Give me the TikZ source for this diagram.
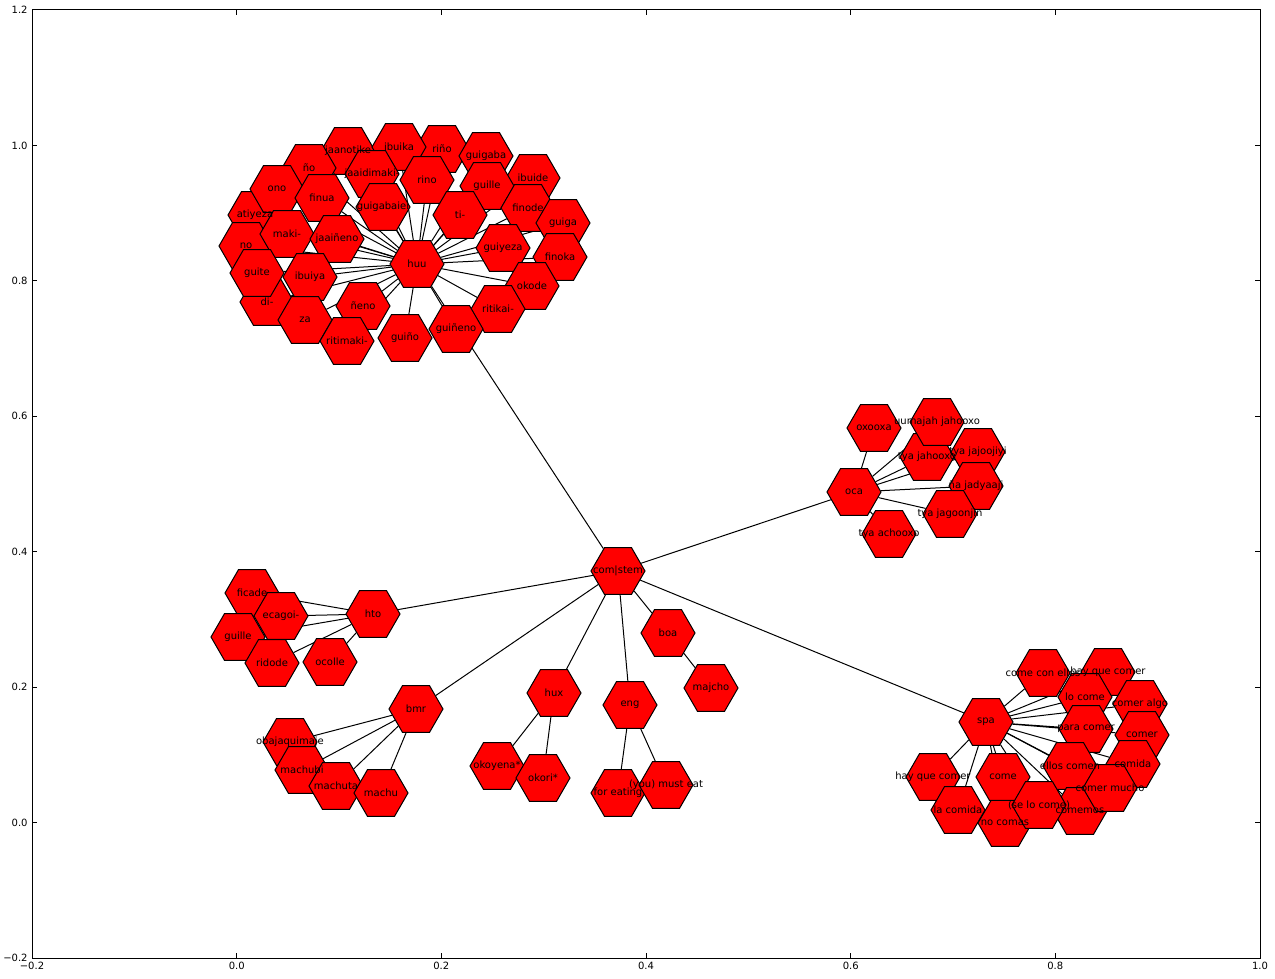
\documentclass[tikz,border=0pt]{standalone}
\usepackage{fontspec}
\setmainfont{DejaVu Sans}
\usetikzlibrary{shapes.geometric}
\pgfdeclarelayer{background}
\pgfsetlayers{background,main}

\begin{document}
\begin{tikzpicture}[x=0.5pt,y=-0.5pt,
  hexnode/.style={regular polygon,regular polygon sides=6,minimum size=27pt,inner sep=0pt,fill=red,draw=black,line width=0.5pt},
  hexlabel/.style={font=\fontsize{5}{6}\selectfont,inner sep=0pt,text=black},
  ticklabel/.style={font=\fontsize{5}{6}\selectfont,inner sep=0pt},
  edge/.style={line width=0.5pt}]
\useasboundingbox (0,0) rectangle (1275,979);
% axes box and ticks
\draw[line width=0.5pt](32,10) rectangle (1260,958);
\draw[line width=0.5pt](236.7,958)--(236.7,953) (441.3,958)--(441.3,953) (646,958)--(646,953) (850.7,958)--(850.7,953) (1055.3,958)--(1055.3,953);
\draw[line width=0.5pt](236.7,10)--(236.7,15) (441.3,10)--(441.3,15) (646,10)--(646,15) (850.7,10)--(850.7,15) (1055.3,10)--(1055.3,15);
\draw[line width=0.5pt](32,822.6)--(37,822.6) (32,687.1)--(37,687.1) (32,551.7)--(37,551.7) (32,416.3)--(37,416.3) (32,280.9)--(37,280.9) (32,145.4)--(37,145.4);
\draw[line width=0.5pt](1260,822.6)--(1255,822.6) (1260,687.1)--(1255,687.1) (1260,551.7)--(1255,551.7) (1260,416.3)--(1255,416.3) (1260,280.9)--(1255,280.9) (1260,145.4)--(1255,145.4);
\node[ticklabel,anchor=north] (xm2) at (32,962) {−0.2};
\node[ticklabel,anchor=north] (x0) at (236.7,962) {0.0};
\node[ticklabel,anchor=north] (x2) at (441.3,962) {0.2};
\node[ticklabel,anchor=north] (x4) at (646,962) {0.4};
\node[ticklabel,anchor=north] (x6) at (850.7,962) {0.6};
\node[ticklabel,anchor=north] (x8) at (1055.3,962) {0.8};
\node[ticklabel,anchor=north] (x10) at (1260,962) {1.0};
\node[ticklabel,anchor=east] (ym2) at (28,958) {−0.2};
\node[ticklabel,anchor=east] (y0) at (28,822.6) {0.0};
\node[ticklabel,anchor=east] (y2) at (28,687.1) {0.2};
\node[ticklabel,anchor=east] (y4) at (28,551.7) {0.4};
\node[ticklabel,anchor=east] (y6) at (28,416.3) {0.6};
\node[ticklabel,anchor=east] (y8) at (28,280.9) {0.8};
\node[ticklabel,anchor=east] (y10) at (28,145.4) {1.0};
\node[ticklabel,anchor=east] (y12) at (28,10) {1.2};
%
% hexagons
\node[hexnode] (stem) at (618,571) {};
\node[hexnode] (huu) at (417,264) {};
\node[hexnode] (oca) at (854,492) {};
\node[hexnode] (spa) at (986,722) {};
\node[hexnode] (hto) at (373,614) {};
\node[hexnode] (bmr) at (416,709) {};
\node[hexnode] (hux) at (554,693) {};
\node[hexnode] (eng) at (630,705) {};
\node[hexnode] (boa) at (668,633) {};
%
\node[hexnode] (jaanotike) at (348,151) {};
\node[hexnode] (riny) at (442,149) {};
\node[hexnode] (guigaba) at (486,156) {};
\node[hexnode] (ibuika) at (399,147) {};
\node[hexnode] (nyo) at (309,168) {};
\node[hexnode] (jaaidimaki) at (372,174) {};
\node[hexnode] (rino) at (427,180) {};
\node[hexnode] (ibuide) at (533,178) {};
\node[hexnode] (guille) at (487,186) {};
\node[hexnode] (atiyeza) at (255,215) {};
\node[hexnode] (ono) at (277,189) {};
\node[hexnode] (finua) at (322,198) {};
\node[hexnode] (guigabaiei) at (383,207) {};
\node[hexnode] (finode) at (528,208) {};
\node[hexnode] (ti) at (460,215) {};
\node[hexnode] (guiga) at (563,223) {};
\node[hexnode] (no) at (246,246) {};
\node[hexnode] (maki) at (287,234) {};
\node[hexnode] (jaainyeno) at (337,239) {};
\node[hexnode] (guiyeza) at (503,248) {};
\node[hexnode] (finoka) at (560,257) {};
\node[hexnode] (di) at (267,302) {};
\node[hexnode] (guite) at (257,273) {};
\node[hexnode] (ibuiya) at (310,277) {};
\node[hexnode] (okode) at (532,286) {};
\node[hexnode] (za) at (305,320) {};
\node[hexnode] (nyeno) at (363,306) {};
\node[hexnode] (ritikai) at (498,309) {};
\node[hexnode] (ritimaki) at (347,341) {};
\node[hexnode] (guinyo) at (405,338) {};
\node[hexnode] (guinyeno) at (456,329) {};
%
\node[hexnode] (oxooxa) at (874,428) {};
\node[hexnode] (tyajahooxo) at (927,457) {};
\node[hexnode] (uumajah) at (937,422) {};
\node[hexnode] (tyajajoojiyi) at (978,452) {};
\node[hexnode] (nyajadyaaji) at (976,486) {};
\node[hexnode] (tyajagoonjin) at (950,514) {};
\node[hexnode] (tyaachooxo) at (889,534) {};
%
\node[hexnode] (comeconellos) at (1043,673) {};
\node[hexnode] (hayqueA) at (1108,672) {};
\node[hexnode] (locome) at (1085,697) {};
\node[hexnode] (comeralgo) at (1140,704) {};
\node[hexnode] (paracomer) at (1086,729) {};
\node[hexnode] (comer) at (1142,735) {};
\node[hexnode] (comida) at (1133,764) {};
\node[hexnode] (elloscomen) at (1070,766) {};
\node[hexnode] (comemos) at (1080,811) {};
\node[hexnode] (comermucho) at (1110,788) {};
\node[hexnode] (hayqueB) at (933,777) {};
\node[hexnode] (lacomida) at (958,810) {};
\node[hexnode] (nocomas) at (1005,823) {};
\node[hexnode] (come) at (1003,777) {};
\node[hexnode] (selocome) at (1039,805) {};
%
\node[hexnode] (ficade) at (252,593) {};
\node[hexnode] (ecagoi) at (281,616) {};
\node[hexnode] (guilleb) at (238,637) {};
\node[hexnode] (ridode) at (272,663) {};
\node[hexnode] (ocolle) at (330,662) {};
%
\node[hexnode] (obajaquimaje) at (290,742) {};
\node[hexnode] (machubi) at (302,770) {};
\node[hexnode] (machuta) at (336,786) {};
\node[hexnode] (machu) at (381,793) {};
%
\node[hexnode] (okoyena) at (497,766) {};
\node[hexnode] (okori) at (543,778) {};
\node[hexnode] (foreating) at (618,793) {};
\node[hexnode] (musteat) at (666,785) {};
\node[hexnode] (majcho) at (711,688) {};
%
% edges
\begin{pgfonlayer}{background}
\draw[edge] (stem)--(huu) (stem)--(oca) (stem)--(spa) (stem)--(hto) (stem)--(bmr) (stem)--(hux) (stem)--(eng) (stem)--(boa);
\draw[edge] (huu)--(jaanotike) (huu)--(riny) (huu)--(guigaba) (huu)--(ibuika) (huu)--(nyo) (huu)--(jaaidimaki) (huu)--(rino) (huu)--(ibuide);
\draw[edge] (huu)--(guille) (huu)--(atiyeza) (huu)--(ono) (huu)--(finua) (huu)--(guigabaiei) (huu)--(finode) (huu)--(ti) (huu)--(guiga);
\draw[edge] (huu)--(no) (huu)--(maki) (huu)--(jaainyeno) (huu)--(guiyeza) (huu)--(finoka) (huu)--(di) (huu)--(guite) (huu)--(ibuiya);
\draw[edge] (huu)--(okode) (huu)--(za) (huu)--(nyeno) (huu)--(ritikai) (huu)--(ritimaki) (huu)--(guinyo) (huu)--(guinyeno);
\draw[edge] (oca)--(oxooxa) (oca)--(tyajahooxo) (oca)--(uumajah) (oca)--(tyajajoojiyi) (oca)--(nyajadyaaji) (oca)--(tyajagoonjin) (oca)--(tyaachooxo);
\draw[edge] (spa)--(comeconellos) (spa)--(hayqueA) (spa)--(locome) (spa)--(comeralgo) (spa)--(paracomer) (spa)--(comer) (spa)--(comida) (spa)--(elloscomen);
\draw[edge] (spa)--(comemos) (spa)--(comermucho) (spa)--(hayqueB) (spa)--(lacomida) (spa)--(nocomas) (spa)--(come) (spa)--(selocome);
\draw[edge] (hto)--(ficade) (hto)--(ecagoi) (hto)--(guilleb) (hto)--(ridode) (hto)--(ocolle);
\draw[edge] (bmr)--(obajaquimaje) (bmr)--(machubi) (bmr)--(machuta) (bmr)--(machu);
\draw[edge] (hux)--(okoyena) (hux)--(okori) (eng)--(foreating) (eng)--(musteat) (boa)--(majcho);
\end{pgfonlayer}
%
% labels
\node[hexlabel] (l-stem) at (stem) {com|stem};
\node[hexlabel] (l-huu) at (huu) {huu};
\node[hexlabel] (l-oca) at (oca) {oca};
\node[hexlabel] (l-spa) at (spa) {spa};
\node[hexlabel] (l-hto) at (hto) {hto};
\node[hexlabel] (l-bmr) at (bmr) {bmr};
\node[hexlabel] (l-hux) at (hux) {hux};
\node[hexlabel] (l-eng) at (eng) {eng};
\node[hexlabel] (l-boa) at (boa) {boa};
%
\node[hexlabel] (l-jaanotike) at (jaanotike) {jaanotike};
\node[hexlabel] (l-riny) at (riny) {riño};
\node[hexlabel] (l-guigaba) at (guigaba) {guigaba};
\node[hexlabel] (l-ibuika) at (ibuika) {ibuika};
\node[hexlabel] (l-nyo) at (nyo) {ño};
\node[hexlabel] (l-jaaidimaki) at (jaaidimaki) {jaaidimaki-};
\node[hexlabel] (l-rino) at (rino) {rino};
\node[hexlabel] (l-ibuide) at (ibuide) {ibuide};
\node[hexlabel] (l-guille) at (guille) {guille};
\node[hexlabel] (l-atiyeza) at (atiyeza) {atiyeza};
\node[hexlabel] (l-ono) at (ono) {ono};
\node[hexlabel] (l-finua) at (finua) {finua};
\node[hexlabel] (l-guigabaiei) at (guigabaiei) {guigabaiei};
\node[hexlabel] (l-finode) at (finode) {finode};
\node[hexlabel] (l-ti) at (ti) {ti-};
\node[hexlabel] (l-guiga) at (guiga) {guiga};
\node[hexlabel] (l-no) at (no) {no};
\node[hexlabel] (l-maki) at (maki) {maki-};
\node[hexlabel] (l-jaainyeno) at (jaainyeno) {jaaiñeno};
\node[hexlabel] (l-guiyeza) at (guiyeza) {guiyeza};
\node[hexlabel] (l-finoka) at (finoka) {finoka};
\node[hexlabel] (l-di) at (di) {di-};
\node[hexlabel] (l-guite) at (guite) {guite};
\node[hexlabel] (l-ibuiya) at (ibuiya) {ibuiya};
\node[hexlabel] (l-okode) at (okode) {okode};
\node[hexlabel] (l-za) at (za) {za};
\node[hexlabel] (l-nyeno) at (nyeno) {ñeno};
\node[hexlabel] (l-ritikai) at (ritikai) {ritikai-};
\node[hexlabel] (l-ritimaki) at (ritimaki) {ritimaki-};
\node[hexlabel] (l-guinyo) at (guinyo) {guiño};
\node[hexlabel] (l-guinyeno) at (guinyeno) {guiñeno};
%
\node[hexlabel] (l-oxooxa) at (oxooxa) {oxooxa};
\node[hexlabel] (l-tyajahooxo) at (tyajahooxo) {tya jahooxo};
\node[hexlabel] (l-uumajah) at (uumajah) {uumajah jahooxo};
\node[hexlabel] (l-tyajajoojiyi) at (tyajajoojiyi) {tya jajoojiyi};
\node[hexlabel] (l-nyajadyaaji) at (nyajadyaaji) {ña jadyaaji};
\node[hexlabel] (l-tyajagoonjin) at (tyajagoonjin) {tya jagoonjin};
\node[hexlabel] (l-tyaachooxo) at (tyaachooxo) {tya achooxo};
%
\node[hexlabel] (l-comeconellos) at (comeconellos) {come con ellos};
\node[hexlabel] (l-hayqueA) at (hayqueA) {hay que comer};
\node[hexlabel] (l-locome) at (locome) {lo come};
\node[hexlabel] (l-comeralgo) at (comeralgo) {comer algo};
\node[hexlabel] (l-paracomer) at (paracomer) {para comer};
\node[hexlabel] (l-comer) at (comer) {comer};
\node[hexlabel] (l-comida) at (comida) {comida};
\node[hexlabel] (l-elloscomen) at (elloscomen) {ellos comen};
\node[hexlabel] (l-comemos) at (comemos) {comemos};
\node[hexlabel] (l-comermucho) at (comermucho) {comer mucho};
\node[hexlabel] (l-hayqueB) at (hayqueB) {hay que comer};
\node[hexlabel] (l-lacomida) at (lacomida) {la comida};
\node[hexlabel] (l-nocomas) at (nocomas) {no comas};
\node[hexlabel] (l-come) at (come) {come};
\node[hexlabel] (l-selocome) at (selocome) {(se lo come)};
%
\node[hexlabel] (l-ficade) at (ficade) {ficade};
\node[hexlabel] (l-ecagoi) at (ecagoi) {ecagoi-};
\node[hexlabel] (l-guilleb) at (guilleb) {guille};
\node[hexlabel] (l-ridode) at (ridode) {ridode};
\node[hexlabel] (l-ocolle) at (ocolle) {ocolle};
%
\node[hexlabel] (l-obajaquimaje) at (obajaquimaje) {obajaquimaje};
\node[hexlabel] (l-machubi) at (machubi) {machubi};
\node[hexlabel] (l-machuta) at (machuta) {machuta};
\node[hexlabel] (l-machu) at (machu) {machu};
%
\node[hexlabel] (l-okoyena) at (okoyena) {okoyena*};
\node[hexlabel] (l-okori) at (okori) {okori*};
\node[hexlabel] (l-foreating) at (foreating) {for eating};
\node[hexlabel] (l-musteat) at (musteat) {(you) must eat};
\node[hexlabel] (l-majcho) at (majcho) {majcho};
\end{tikzpicture}
\end{document}
